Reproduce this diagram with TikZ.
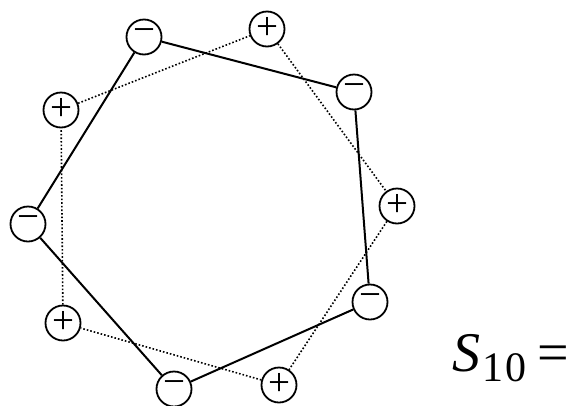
\documentclass[tikz,border=0pt]{standalone}
\usepackage{fontspec}
\setmainfont{Liberation Serif}
\begin{document}
\begin{tikzpicture}[x=1pt,y=-1pt,
  sgn/.style={circle,draw,line width=1.8pt,minimum size=35pt,inner sep=0pt,font=\fontsize{39}{39}\selectfont},
  solidedge/.style={line width=2pt},
  dotedge/.style={line width=1.6pt,dotted}]
\useasboundingbox (0,0) rectangle (581,405);
% minus nodes
\node[sgn] (m1) at (144,37) {\raisebox{2pt}{−}};
\node[sgn] (m2) at (354,92) {\raisebox{2pt}{−}};
\node[sgn] (m3) at (370,302) {\raisebox{2pt}{−}};
\node[sgn] (m4) at (174,389) {\raisebox{2pt}{−}};
\node[sgn] (m5) at (28,224) {\raisebox{2pt}{−}};
% plus nodes
\node[sgn] (p1) at (267,29) {\raisebox{2pt}{+}};
\node[sgn] (p2) at (397,206) {\raisebox{2pt}{+}};
\node[sgn] (p3) at (279,385) {\raisebox{2pt}{+}};
\node[sgn] (p4) at (63,323) {\raisebox{2pt}{+}};
\node[sgn] (p5) at (61,110) {\raisebox{2pt}{+}};
% solid pentagon
\draw[solidedge] (m1) -- (m2);
\draw[solidedge] (m2) -- (m3);
\draw[solidedge] (m3) -- (m4);
\draw[solidedge] (m4) -- (m5);
\draw[solidedge] (m5) -- (m1);
% dotted pentagon
\draw[dotedge] (p1) -- (p2);
\draw[dotedge] (p2) -- (p3);
\draw[dotedge] (p3) -- (p4);
\draw[dotedge] (p4) -- (p5);
\draw[dotedge] (p5) -- (p1);
% label
\node[anchor=base west,inner sep=0pt] (lbl) at (452,371) {\fontsize{56}{56}\selectfont\textit{S}\kern2pt\raisebox{-10pt}{\fontsize{42}{42}\selectfont 1\kern2pt 0}\hspace{11pt}=};
\end{tikzpicture}
\end{document}
